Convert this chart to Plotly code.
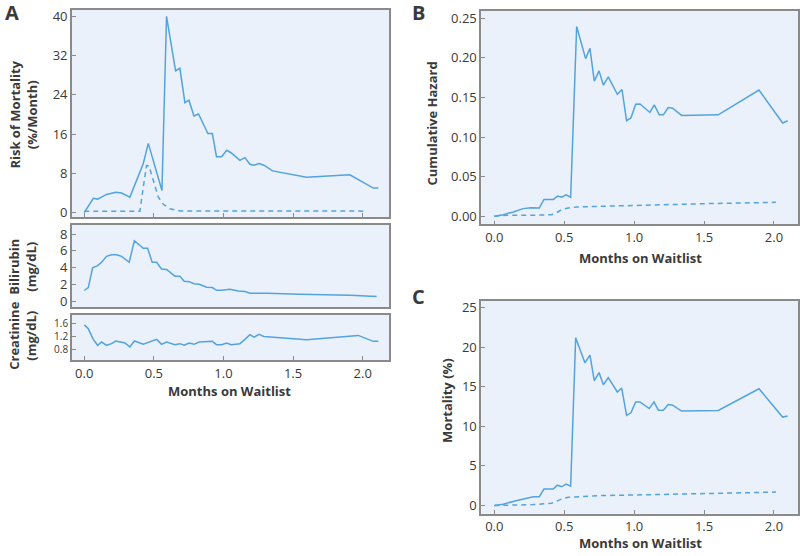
import plotly.graph_objects as go

# ---------------- data ----------------
risk_x = [0, 0.065, 0.096, 0.16, 0.227, 0.268, 0.328, 0.424, 0.46, 0.558, 0.591, 0.656, 0.687, 0.723,
          0.752, 0.788, 0.821, 0.888, 0.92, 0.95, 0.987, 1.023, 1.054, 1.118, 1.154, 1.19, 1.221, 1.255,
          1.29, 1.353, 1.597, 1.908, 2.076, 2.112]
risk_y = [0, 2.9, 2.75, 3.7, 4.15, 4.0, 3.15, 10.0, 14.1, 4.5, 40, 28.9, 29.4, 22.4,
          22.9, 19.7, 20.1, 16.1, 16.1, 11.4, 11.4, 12.7, 12.2, 10.65, 11.2, 9.85, 9.65, 10.0,
          9.65, 8.5, 7.2, 7.7, 5.0, 5.0]
risk_ref_x = [0, 0.4, 0.424, 0.448, 0.465, 0.496, 0.532, 0.568, 0.615, 0.687, 2.03]
risk_ref_y = [0.3, 0.3, 5.2, 9.6, 9.5, 6.5, 3.15, 1.7, 0.8, 0.35, 0.3]

bili_x = [0, 0.029, 0.06, 0.096, 0.125, 0.16, 0.196, 0.232, 0.268, 0.292, 0.323, 0.36, 0.424, 0.455,
          0.488, 0.52, 0.555, 0.591, 0.651, 0.687, 0.718, 0.754, 0.788, 0.826, 0.879, 0.92, 0.95,
          0.987, 1.046, 1.106, 1.154, 1.19, 1.31, 1.55, 1.908, 2.1]
bili_y = [1.3, 1.65, 4.0, 4.25, 4.65, 5.35, 5.55, 5.55, 5.35, 5.05, 4.65, 7.2, 6.3, 6.3,
          4.65, 4.65, 3.85, 3.8, 3.0, 3.0, 2.4, 2.35, 2.1, 2.05, 1.7, 1.65, 1.33,
          1.33, 1.45, 1.25, 1.17, 0.98, 0.98, 0.85, 0.75, 0.6]

crea_x = [0, 0.029, 0.065, 0.096, 0.125, 0.16, 0.196, 0.227, 0.261, 0.292, 0.328, 0.36, 0.424, 0.46,
          0.52, 0.555, 0.591, 0.651, 0.687, 0.718, 0.754, 0.788, 0.826, 0.92, 0.95, 0.987, 1.023,
          1.054, 1.118, 1.154, 1.19, 1.221, 1.255, 1.29, 1.357, 1.597, 1.968, 2.076, 2.112]
crea_y = [1.55, 1.43, 1.11, 0.93, 1.03, 0.93, 0.98, 1.06, 1.03, 1.0, 0.88, 1.06, 0.96, 1.01,
          1.11, 0.96, 1.03, 0.95, 0.98, 0.93, 1.0, 0.96, 1.03, 1.05, 0.95, 0.95, 1.0,
          0.95, 0.98, 1.11, 1.25, 1.18, 1.26, 1.2, 1.18, 1.1, 1.23, 1.05, 1.05]

haz_x = [0, 0.064, 0.136, 0.207, 0.262, 0.291, 0.322, 0.355, 0.422, 0.453, 0.482, 0.513, 0.546, 0.589,
         0.653, 0.684, 0.715, 0.749, 0.78, 0.815, 0.88, 0.913, 0.946, 0.977, 1.011, 1.042, 1.113,
         1.144, 1.18, 1.209, 1.244, 1.275, 1.34, 1.602, 1.893, 2.062, 2.098]
haz_y = [0, 0.002, 0.0054, 0.0096, 0.0108, 0.0108, 0.0104, 0.0212, 0.0212, 0.0254, 0.024, 0.027, 0.024, 0.2396,
         0.199, 0.212, 0.1706, 0.1835, 0.1656, 0.176, 0.154, 0.160, 0.1206, 0.124, 0.1414, 0.1418, 0.131,
         0.1406, 0.128, 0.128, 0.1373, 0.1364, 0.1273, 0.128, 0.1593, 0.1177, 0.1206]
haz_ref_x = [0, 0.088, 0.279, 0.41, 0.446, 0.482, 0.529, 0.589, 0.756, 0.994, 1.232, 1.59, 2.014]
haz_ref_y = [0, 0.0012, 0.0012, 0.002, 0.0046, 0.0083, 0.0104, 0.0116, 0.0125, 0.0137, 0.015, 0.0162, 0.0175]

mort_x = [0, 0.064, 0.148, 0.243, 0.279, 0.322, 0.355, 0.422, 0.451, 0.482, 0.513, 0.546, 0.582,
          0.648, 0.684, 0.715, 0.749, 0.78, 0.815, 0.88, 0.911, 0.946, 0.977, 1.011, 1.042, 1.108,
          1.142, 1.173, 1.209, 1.244, 1.275, 1.34, 1.602, 1.893, 2.062, 2.098]
mort_y = [0, 0.17, 0.58, 1.04, 1.12, 1.12, 2.08, 2.08, 2.57, 2.37, 2.7, 2.45, 21.18,
          18.02, 18.98, 15.78, 16.78, 15.24, 16.15, 14.33, 14.83, 11.38, 11.71, 13.08, 13.08, 12.25,
          13.08, 12.04, 12.04, 12.75, 12.67, 11.92, 12.0, 14.74, 11.17, 11.3]
mort_ref_x = [0, 0.112, 0.279, 0.41, 0.451, 0.493, 0.529, 0.589, 0.756, 0.994, 1.232, 1.59, 2.014]
mort_ref_y = [0, 0.04, 0.12, 0.29, 0.58, 0.91, 1.04, 1.12, 1.25, 1.33, 1.45, 1.54, 1.70]

x_ticks = [0, 0.5, 1.0, 1.5, 2.0]
x_ticklabels = ["0.0", "0.5", "1.0", "1.5", "2.0"]

# ---------------- style ----------------
LINE = "#53a3de"
BG = "#eaf1fa"
FRAME = "#8a8a8a"
TXT = "#3a3a3a"
FONT = "Open Sans"
W, H = 800, 556

fig = go.Figure()

def add(x, y, ax, dash=None):
    fig.add_trace(go.Scatter(x=x, y=y, mode="lines", xaxis="x" + ax, yaxis="y" + ax,
                             line=dict(color=LINE, width=1.5, dash=dash), showlegend=False,
                             hoverinfo="skip"))

add(risk_x, risk_y, "")
add(risk_ref_x, risk_ref_y, "", "5px,4px")
add(bili_x, bili_y, "2")
add(crea_x, crea_y, "3")
add(haz_x, haz_y, "4")
add(haz_ref_x, haz_ref_y, "4", "5px,4px")
add(mort_x, mort_y, "5")
add(mort_ref_x, mort_ref_y, "5", "5px,4px")

def px_x(a, b):
    return [a / W, b / W]

def px_y(top, bottom):
    return [1 - bottom / H, 1 - top / H]

def axis(ticks="inside", size=13, **kw):
    d = dict(showline=True, mirror=True, linecolor=FRAME, linewidth=1.8, showgrid=False,
             zeroline=False, ticks=ticks, ticklen=4, tickcolor=FRAME,
             tickfont=dict(family=FONT, size=size, color=TXT), fixedrange=True)
    d.update(kw)
    return d

layout = dict(
    width=W, height=H, margin=dict(l=0, r=0, t=0, b=0),
    paper_bgcolor="white", plot_bgcolor=BG,
    font=dict(family=FONT, color=TXT),
    xaxis=axis(domain=px_x(72, 389), range=[-0.088, 2.189], anchor="y", tickvals=x_ticks,
               showticklabels=False),
    yaxis=axis(domain=px_y(7, 217), range=[-0.95, 41.3], anchor="x", tickvals=[0, 8, 16, 24, 32, 40]),
    xaxis2=axis(ticks="", domain=px_x(72, 389), range=[-0.088, 2.189], anchor="y2", tickvals=x_ticks,
                showticklabels=False),
    yaxis2=axis(domain=px_y(225, 308), range=[-0.67, 9.05], anchor="x2", tickvals=[0, 2, 4, 6, 8]),
    xaxis3=axis(domain=px_x(72, 389), range=[-0.088, 2.189], anchor="y3", tickvals=x_ticks,
                ticktext=x_ticklabels),
    yaxis3=axis(size=10, domain=px_y(315.7, 361.7), range=[0.48, 1.857], anchor="x3",
                tickvals=[0.8, 1.2, 1.6], ticktext=["0.8", "1.2", "1.6"]),
    xaxis4=axis(domain=px_x(481.3, 798), range=[-0.093, 2.172], anchor="y4", tickvals=x_ticks,
                ticktext=x_ticklabels),
    yaxis4=axis(domain=px_y(8, 224.3), range=[-0.0104, 0.2592], anchor="x4",
                tickvals=[0, 0.05, 0.10, 0.15, 0.20, 0.25],
                ticktext=["0.00", "0.05", "0.10", "0.15", "0.20", "0.25"]),
    xaxis5=axis(domain=px_x(481.3, 798), range=[-0.093, 2.172], anchor="y5", tickvals=x_ticks,
                ticktext=x_ticklabels),
    yaxis5=axis(domain=px_y(301.7, 517.3), range=[-1.04, 25.83], anchor="x5",
                tickvals=[0, 5, 10, 15, 20, 25]),
)
fig.update_layout(**layout)

def note(text, x, y, size=13, bold=True, angle=0):
    fig.add_annotation(text=("<b>%s</b>" % text) if bold else text, x=x / W, y=1 - y / H,
                       xref="paper", yref="paper", showarrow=False, textangle=angle,
                       xanchor="center", yanchor="middle",
                       font=dict(family=FONT, size=size, color=TXT))

note("Risk of Mortality<br>(%/Month)", 24, 113, angle=-90)
note("Bilirubin<br>(mg/dL)", 23, 267, angle=-90)
note("Creatinine<br>(mg/dL)", 23, 337, angle=-90)
note("Months on Waitlist", 230, 393)
note("Cumulative Hazard", 432, 122, angle=-90)
note("Months on Waitlist", 640, 258)
note("Mortality (%)", 447, 403, angle=-90)
note("Months on Waitlist", 640, 547)
note("A", 12, 10, size=20)
note("B", 418, 10, size=20)
note("C", 418, 297, size=20)

fig.write_html("out.html", config={"displayModeBar": False},
               post_script="document.body.style.margin='0';document.body.style.overflow='hidden';")
